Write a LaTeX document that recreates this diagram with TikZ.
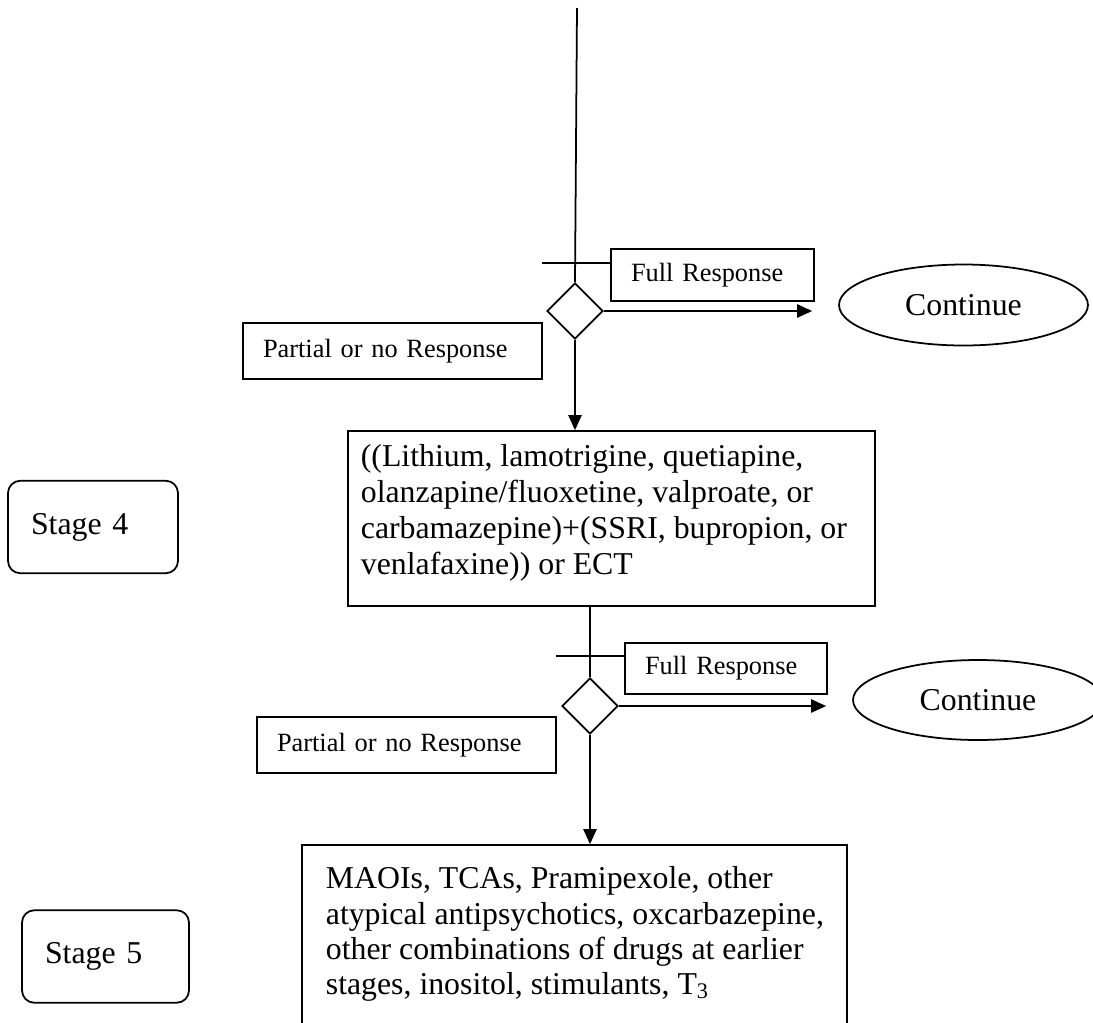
\documentclass[tikz,border=0pt]{standalone}
\usepackage{fontspec}
\setmainfont{Liberation Serif}
\usepackage{tikz}
\usetikzlibrary{arrows.meta,shapes.geometric}

\begin{document}
\begin{tikzpicture}[
        x=0.02cm, y=-0.02cm,
        line width=1pt,
        bigfont/.style={font=\fontsize{18.1}{20.4}\selectfont},
        answer/.style={
            rectangle,
            draw=black,
            font=\fontsize{15}{17}\selectfont,
            align=left,
            inner xsep=0.4cm,
            inner ysep=0pt
        },
        decision/.style={
            diamond,
            draw=black,
            minimum size=1.12cm,
            inner sep=0pt
        },
        outcome/.style={
            ellipse,
            draw=black,
            bigfont,
            minimum width=4.98cm,
            minimum height=1.62cm,
            inner sep=0pt
        },
        stagebox/.style={
            rectangle,
            draw=black,
            rounded corners=7pt,
            bigfont,
            align=left,
            inner xsep=0.46cm,
            minimum height=1.85cm
        },
        drugbox/.style={rectangle, draw=black, inner sep=0pt},
        drugtext/.style={bigfont, align=left, inner sep=0pt, anchor=north west},
        arrow/.style={-{Triangle[length=8.5pt,width=7.5pt]}, draw, shorten >=0.52cm}
    ]
        \useasboundingbox (0,0) rectangle (1093,1022);

        % Stage 4 nodes
        \coordinate (start) at (577,8);
        \node[decision] (dia1) at (575,311) {};
        \node[answer, text width=3.26cm, minimum height=1.04cm] (full1) at (712.5,275) {Full Response};
        \node[outcome] (cont1) at (963.5,305) {Continue};
        \node[answer, text width=5.18cm, minimum height=1.12cm] (part1) at (392.5,351) {Partial or no Response};
        \node[drugbox, minimum width=10.54cm, minimum height=3.5cm] (drug1) at (611.5,518.5) {};
        \node[drugtext] (drug1txt) at (360,444) {((Lithium, lamotrigine, quetiapine,\\olanzapine/fluoxetine, valproate, or\\carbamazepine)+(SSRI, bupropion, or\\venlafaxine)) or ECT};
        \node[stagebox, text width=2.48cm] (stage4) at (93,527) {Stage 4};
        \coordinate (cross1) at (542,263);

        % Stage 5 nodes
        \node[decision] (dia2) at (590,706) {};
        \node[answer, text width=3.24cm, minimum height=1.02cm] (full2) at (726,668.5) {Full Response};
        \node[outcome, minimum width=5cm, minimum height=1.6cm] (cont2) at (978,700) {Continue};
        \node[answer, text width=5.18cm, minimum height=1.12cm] (part2) at (406.5,745) {Partial or no Response};
        \node[drugbox, minimum width=10.9cm, minimum height=4.5cm] (drug2) at (574.5,957.5) {};
        \node[drugtext, font=\fontsize{18.1}{20}\selectfont] (drug2txt) at (325,866) {MAOIs, TCAs, Pramipexole, other\\atypical antipsychotics, oxcarbazepine,\\other combinations of drugs at earlier\\stages, inositol, stimulants, T\textsubscript{3}};
        \node[stagebox, text width=2.42cm] (stage5) at (105.5,956.5) {Stage 5};
        \coordinate (cross2) at (556,656);

        % Flow lines
        \draw (start) -- (dia1.north);
        \draw (cross1) -- (cross1 -| full1.west);
        \draw[arrow] (dia1.east) -- (dia1.east -| cont1.west);
        \draw[arrow, shorten >=0pt] (dia1.south) -- (dia1.south |- drug1.north);
        \draw (dia2.north |- drug1.south) -- (dia2.north);
        \draw (cross2) -- (cross2 -| full2.west);
        \draw[arrow] (dia2.east) -- (dia2.east -| cont2.west);
        \draw[arrow, shorten >=0pt] (dia2.south) -- (dia2.south |- drug2.north);

    \end{tikzpicture}
\end{document}
